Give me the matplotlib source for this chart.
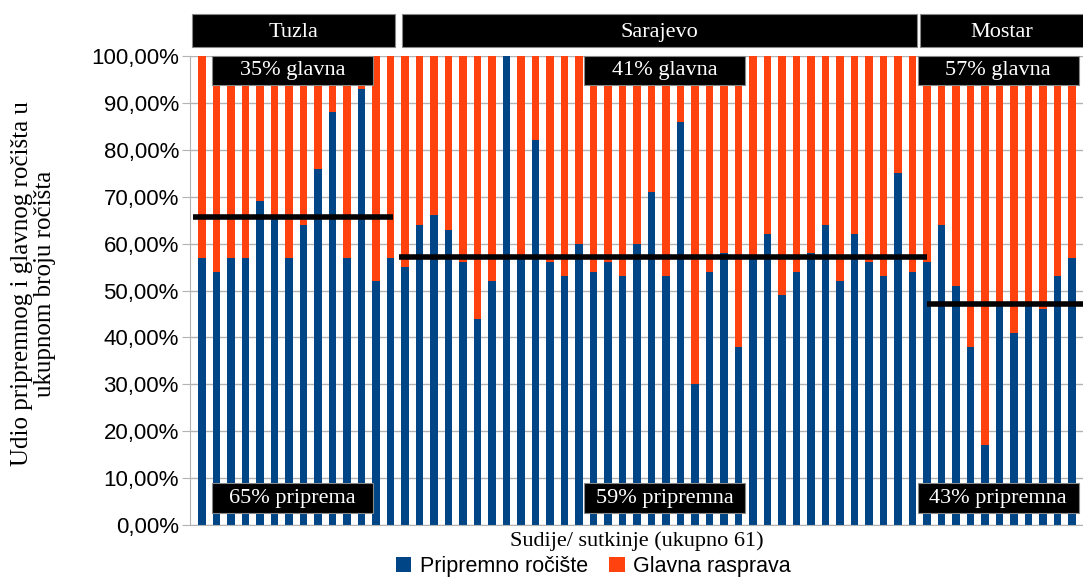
import matplotlib.pyplot as plt
from matplotlib.patches import Rectangle
from matplotlib.ticker import FuncFormatter
import matplotlib.transforms as mtransforms

# udio pripremnog rocista po sudiji (%)
tuzla = [57, 54, 57, 57, 69, 66, 57, 64, 76, 88, 57, 93, 52, 57]
sarajevo = [55, 64, 66, 63, 56, 44, 52, 100, 57, 82, 56, 53, 60, 54, 56, 53,
            60, 71, 53, 86, 30, 54, 58, 38, 57, 62, 49, 54, 58, 64, 52, 62,
            56, 53, 75, 54]
mostar = [56, 64, 51, 38, 17, 47, 41, 47, 46, 53, 57, 43]

gradovi = ['Tuzla', 'Sarajevo', 'Mostar']
prosjek = [65.7, 57.2, 47.1]
glavna_txt = ['35% glavna', '41% glavna', '57% glavna']
priprema_txt = ['65% priprema', '59% pripremna', '43% pripremna']

pripremno = tuzla + sarajevo + mostar
glavna = [100 - v for v in pripremno]
x = list(range(len(pripremno)))

plava = '#004586'
narandzasta = '#ff420e'
serif = ['Liberation Serif', 'DejaVu Serif']
sans = ['Liberation Sans', 'DejaVu Sans']

fig = plt.figure(figsize=(10.83, 5.77), dpi=100)
ax = fig.add_axes([190 / 1083, 52 / 577, 893 / 1083, 469 / 577])

ax.bar(x, pripremno, width=0.52, color=plava, zorder=2, label='Pripremno ročište')
ax.bar(x, glavna, width=0.52, bottom=pripremno, color=narandzasta, zorder=2,
       label='Glavna rasprava')

ax.set_xlim(-0.83, 60.76)
ax.set_ylim(0, 100)
ax.set_yticks(range(0, 101, 10))
ax.yaxis.set_major_formatter(FuncFormatter(lambda v, p: f'{v:.2f}%'.replace('.', ',')))
ax.set_xticks([])
ax.grid(axis='y', color='#b3b3b3', linewidth=1, zorder=0)
ax.tick_params(axis='y', length=6, color='#b3b3b3', pad=2, labelsize=16)
for lab in ax.get_yticklabels():
    lab.set_family(sans)
for s in ['top', 'right']:
    ax.spines[s].set_visible(False)
for s in ['left', 'bottom']:
    ax.spines[s].set_color('#b3b3b3')

# granice grupa
n1 = len(tuzla)
n2 = n1 + len(sarajevo)
n3 = n2 + len(mostar)
granice = [(-0.5, n1 - 0.5), (n1 - 0.5, n2 - 0.5), (n2 - 0.5, n3 - 0.5)]
pomak = [-0.17, 0.3, 0.05]

trans = mtransforms.blended_transform_factory(ax.transData, ax.transAxes)
for (a, b), ime, pm in zip(granice, gradovi, pomak):
    a0 = a + pm
    b0 = b - 0.22
    ax.add_patch(Rectangle((a0, 1.0192), b0 - a0, 0.0704, transform=trans,
                           facecolor='black', edgecolor='#888888', lw=0.8,
                           clip_on=False))
    ax.text((a0 + min(b0, 60.76)) / 2, 1.05, ime, transform=trans, color='white',
            ha='center', va='center', fontsize=16, family=serif)

# prosjecne linije
linije = [(-0.6, 13.2), (13.6, 50.0), (50.0, 60.76)]
for (a, b), p in zip(linije, prosjek):
    ax.plot([a, b], [p, p], color='black', lw=4, zorder=4, solid_capstyle='butt')

# oznake u grafu
centri = [6.24, 31.9, 54.9]
for c, g, pr in zip(centri, glavna_txt, priprema_txt):
    for y0, t in [(93.8, g), (2.56, pr)]:
        ax.add_patch(Rectangle((c - 5.55, y0), 11.1, 6.3, facecolor='black',
                               edgecolor='#888888', lw=0.8, zorder=5, clip_on=False))
        ax.text(c, y0 + 3.1, t, color='white', ha='center', va='center',
                fontsize=16, family=serif, zorder=6)

fig.text(0.031, 0.508, 'Udio pripremnog i glavnog ročišta u\nukupnom broju ročišta',
         rotation=90, ha='center', va='center', multialignment='center',
         family=serif, fontsize=18, linespacing=1.1)
fig.text(0.588, 0.062, 'Sudije/ sutkinje (ukupno 61)', ha='center', va='center',
         family=serif, fontsize=16)

fig.legend(loc='center', bbox_to_anchor=(0.548, 0.018), ncol=2, frameon=False,
           prop={'family': sans, 'size': 15.5}, handlelength=0.7, handleheight=0.7,
           handletextpad=0.4, columnspacing=1.0, borderpad=0)

fig.savefig('out.png', dpi=100)
